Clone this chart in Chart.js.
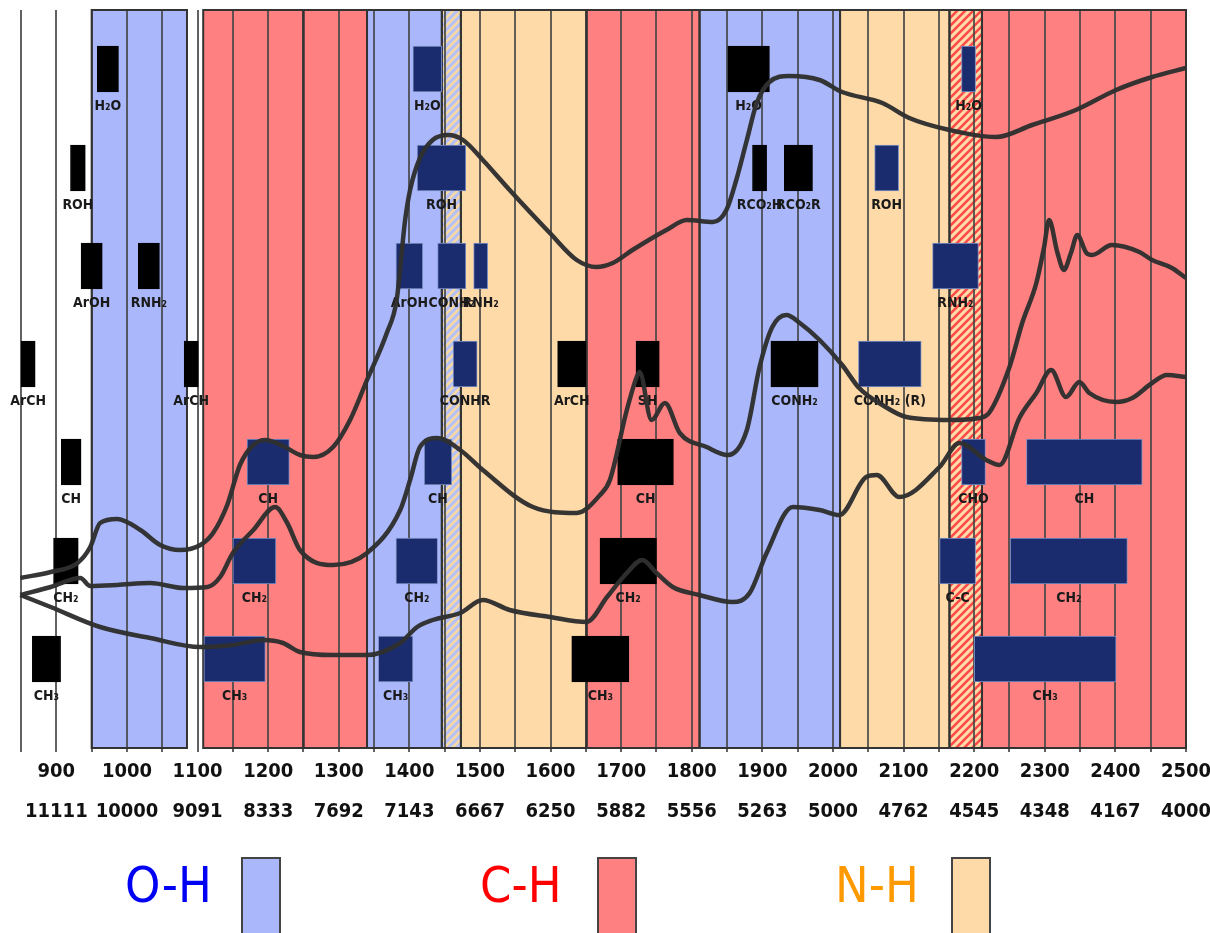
<!DOCTYPE html>
<html>
<head>
<meta charset="utf-8">
<script src="https://cdn.jsdelivr.net/npm/chart.js@4.4.1/dist/chart.umd.min.js"></script>
<style>
  body { margin: 0; background: #fff; }
  #wrap { position: relative; width: 1210px; height: 933px; overflow: hidden; }
  .key { position: absolute; top: 856px; font-family: "DejaVu Sans Condensed", "DejaVu Sans", sans-serif; font-stretch: condensed; font-size: 50px; line-height: 58px; }
  .swatch { position: absolute; top: 857px; width: 36px; height: 90px; border: 2px solid #444; }
</style>
</head>
<body>
<div id="wrap">
  <canvas id="nir" width="1210" height="840"></canvas>
  <span class="key" style="left:125px;color:#0000f5">O-H</span>
  <div class="swatch" style="left:241px;background:#aab8fb"></div>
  <span class="key" style="left:480px;color:#ff0000">C-H</span>
  <div class="swatch" style="left:597px;background:#ff8080"></div>
  <span class="key" style="left:835px;color:#ff9900">N-H</span>
  <div class="swatch" style="left:951px;background:#fedaa8"></div>
</div>
<script>
// axis labels: wavelength (nm) and wavenumber (cm-1)
const tickNm = [900, 1000, 1100, 1200, 1300, 1400, 1500, 1600, 1700, 1800, 1900, 2000, 2100, 2200, 2300, 2400, 2500];
const tickWavenumber = ['11111', '10000', '9091', '8333', '7692', '7143', '6667', '6250', '5882', '5556', '5263', '5000', '4762', '4545', '4348', '4167', '4000'];

// coloured regions behind the chart
const bandStart = [950, 1108, 1250, 1340, 1446, 1473, 1651, 1811, 2010, 2165, 2211];
const bandEnd = [1085, 1250, 1340, 1446, 1473, 1651, 1811, 2010, 2165, 2211, 2500];
const bandType = ['O-H', 'C-H', 'C-H', 'O-H', 'O-H/N-H', 'N-H', 'C-H', 'O-H', 'N-H', 'C-H/N-H', 'C-H'];

// absorption bands (boxes)
const rowLevel = [6.79, 5.80, 4.82, 3.84, 2.86, 1.87, 0.89];
const boxName = [
  'H₂O', 'H₂O', 'H₂O', 'H₂O',
  'ROH', 'ROH', 'RCO₂H', 'RCO₂R', 'ROH',
  'ArOH', 'RNH₂', 'ArOH', 'CONH₂', 'RNH₂', 'RNH₂',
  'ArCH', 'ArCH', 'CONHR', 'ArCH', 'SH', 'CONH₂', 'CONH₂ (R)',
  'CH', 'CH', 'CH', 'CH', 'CHO', 'CH',
  'CH₂', 'CH₂', 'CH₂', 'CH₂', 'C-C', 'CH₂',
  'CH₃', 'CH₃', 'CH₃', 'CH₃', 'CH₃'
];
const boxFrom = [
  958, 1405, 1851, 2182,
  920, 1411, 1886, 1931, 2059,
  935, 1016, 1381, 1440, 1491, 2141,
  850, 1081, 1462, 1610, 1721, 1912, 2036,
  907, 1170, 1421, 1695, 2182, 2274,
  896, 1150, 1381, 1670, 2151, 2251,
  866, 1109, 1356, 1630, 2200
];
const boxTo = [
  988, 1446, 1910, 2202,
  941, 1480, 1906, 1971, 2093,
  965, 1046, 1419, 1480, 1511, 2206,
  870, 1101, 1496, 1650, 1754, 1979, 2125,
  935, 1230, 1460, 1774, 2216, 2438,
  931, 1211, 1440, 1750, 2202, 2417,
  906, 1196, 1405, 1711, 2401
];
const boxRow = [
  1, 1, 1, 1,
  2, 2, 2, 2, 2,
  3, 3, 3, 3, 3, 3,
  4, 4, 4, 4, 4, 4, 4,
  5, 5, 5, 5, 5, 5,
  6, 6, 6, 6, 6, 6,
  7, 7, 7, 7, 7
];
const boxTone = [
  'k', 'n', 'k', 'n',
  'k', 'n', 'k', 'k', 'n',
  'k', 'k', 'n', 'n', 'n', 'n',
  'k', 'k', 'n', 'k', 'k', 'k', 'n',
  'k', 'n', 'n', 'k', 'n', 'n',
  'k', 'n', 'n', 'k', 'n', 'n',
  'k', 'n', 'n', 'k', 'n'
];

// spectra
const topNm = [849, 892, 930, 948, 962, 986, 1019, 1047, 1075, 1104, 1122, 1142, 1160, 1179, 1196, 1221, 1245, 1264, 1292, 1316, 1340, 1368, 1382, 1394, 1401, 1415, 1433, 1455, 1476, 1504, 1542, 1599, 1637, 1665, 1688, 1716, 1764, 1793, 1830, 1849, 1863, 1878, 1892, 1910, 1938, 1981, 2013, 2070, 2108, 2165, 2231, 2282, 2344, 2401, 2452, 2500];
const topAbs = [1.70, 1.76, 1.85, 2.01, 2.25, 2.29, 2.18, 2.03, 1.98, 2.03, 2.15, 2.43, 2.83, 3.03, 3.08, 3.02, 2.93, 2.91, 3.01, 3.28, 3.68, 4.15, 4.48, 5.28, 5.58, 5.90, 6.08, 6.13, 6.08, 5.88, 5.58, 5.15, 4.88, 4.81, 4.85, 4.98, 5.18, 5.28, 5.26, 5.38, 5.68, 6.08, 6.45, 6.66, 6.72, 6.68, 6.56, 6.45, 6.30, 6.18, 6.11, 6.23, 6.38, 6.58, 6.71, 6.80];

const midNm = [849, 892, 934, 948, 986, 1033, 1080, 1114, 1132, 1150, 1179, 1210, 1227, 1245, 1292, 1340, 1387, 1401, 1415, 1440, 1472, 1504, 1575, 1637, 1670, 1684, 1708, 1722, 1726, 1743, 1762, 1783, 1821, 1851, 1878, 1896, 1914, 1934, 1953, 1981, 2013, 2037, 2070, 2104, 2165, 2207, 2221, 2250, 2268, 2288, 2299, 2306, 2318, 2327, 2337, 2346, 2359, 2367, 2395, 2434, 2452, 2480, 2500];
const midAbs = [1.53, 1.61, 1.70, 1.62, 1.63, 1.65, 1.60, 1.61, 1.71, 1.95, 2.18, 2.41, 2.25, 1.98, 1.83, 1.95, 2.38, 2.68, 3.01, 3.10, 2.98, 2.78, 2.41, 2.35, 2.53, 2.68, 3.38, 3.71, 3.76, 3.28, 3.45, 3.15, 3.01, 2.93, 3.18, 3.81, 4.21, 4.33, 4.25, 4.08, 3.83, 3.60, 3.43, 3.31, 3.28, 3.30, 3.35, 3.81, 4.25, 4.65, 5.01, 5.28, 4.95, 4.78, 4.95, 5.13, 4.95, 4.93, 5.03, 4.96, 4.88, 4.80, 4.70];

const lowNm = [849, 892, 962, 1033, 1104, 1150, 1193, 1221, 1245, 1292, 1340, 1387, 1411, 1433, 1472, 1504, 1542, 1599, 1651, 1680, 1708, 1730, 1750, 1773, 1811, 1858, 1882, 1906, 1943, 1981, 2009, 2047, 2062, 2094, 2151, 2179, 2217, 2236, 2264, 2288, 2309, 2330, 2349, 2363, 2401, 2424, 2452, 2473, 2500];
const lowAbs = [1.53, 1.41, 1.21, 1.10, 1.01, 1.03, 1.08, 1.05, 0.96, 0.93, 0.93, 1.05, 1.21, 1.28, 1.35, 1.48, 1.38, 1.31, 1.26, 1.51, 1.75, 1.88, 1.75, 1.61, 1.53, 1.46, 1.55, 1.95, 2.41, 2.38, 2.33, 2.71, 2.73, 2.51, 2.81, 3.05, 2.88, 2.83, 3.30, 3.55, 3.78, 3.51, 3.66, 3.55, 3.46, 3.50, 3.65, 3.73, 3.71];

const gridNm = [];
for (let v = 850; v <= 2500; v += 50) gridNm.push(v);

const ctx = document.getElementById('nir').getContext('2d');

const hatch = (base, stripe) => {
  const c = document.createElement('canvas');
  c.width = 8;
  c.height = 8;
  const g = c.getContext('2d');
  g.fillStyle = base;
  g.fillRect(0, 0, 8, 8);
  g.strokeStyle = stripe;
  g.lineWidth = 2.6;
  g.beginPath();
  g.moveTo(-2, 10); g.lineTo(10, -2);
  g.moveTo(-2, 2); g.lineTo(2, -2);
  g.moveTo(6, 10); g.lineTo(10, 6);
  g.stroke();
  return ctx.createPattern(c, 'repeat');
};

const bandFill = {
  'O-H': '#aab8fb',
  'C-H': '#ff8080',
  'N-H': '#fedaa8',
  'O-H/N-H': hatch('#b6c2f7', '#f9d9a2'),
  'C-H/N-H': hatch('#fedaa8', '#ff4a4a')
};

const bandsPlugin = {
  id: 'bands',
  beforeDraw(chart) {
    const x = chart.scales.x;
    const { top, bottom } = chart.chartArea;
    const c = chart.ctx;
    c.save();
    bandStart.forEach((s, i) => {
      const x0 = x.getPixelForValue(s);
      const x1 = x.getPixelForValue(bandEnd[i]);
      c.fillStyle = bandFill[bandType[i]];
      c.fillRect(x0, top, x1 - x0, bottom - top);
    });
    c.restore();
  },
  beforeDatasetsDraw(chart) {
    const x = chart.scales.x;
    const { top, bottom } = chart.chartArea;
    const c = chart.ctx;
    c.save();
    c.strokeStyle = '#333';
    c.lineWidth = 2;
    bandStart.forEach((s, i) => {
      const x0 = x.getPixelForValue(s);
      const x1 = x.getPixelForValue(bandEnd[i]);
      c.strokeRect(x0, top, x1 - x0, bottom - top);
    });
    c.restore();
  }
};

const boxLabels = {
  id: 'boxLabels',
  afterDatasetDraw(chart, args) {
    if (args.meta.type !== 'bar') return;
    const c = chart.ctx;
    c.save();
    c.font = 'bold 14px "DejaVu Sans Condensed", "DejaVu Sans", sans-serif';
    c.fillStyle = '#1a1a1a';
    c.textAlign = 'center';
    c.textBaseline = 'middle';
    args.meta.data.forEach((bar, i) => {
      const cx = (bar.x + bar.base) / 2;
      const cy = bar.y + bar.height / 2 + 14;
      c.fillText(boxName[i], cx, cy);
    });
    c.restore();
  }
};

const spectrum = (nm, abs) => ({
  type: 'line',
  data: nm.map((v, i) => ({ x: v, y: abs[i] })),
  borderColor: 'rgba(48,48,48,0.97)',
  borderWidth: 4.5,
  pointRadius: 0,
  cubicInterpolationMode: 'monotone',
  order: 0
});

const chart = new Chart(ctx, {
  type: 'bar',
  data: {
    datasets: [
      {
        type: 'bar',
        indexAxis: 'y',
        data: boxName.map((n, i) => ({ x: [boxFrom[i], boxTo[i]], y: rowLevel[boxRow[i] - 1] })),
        backgroundColor: boxTone.map(t => (t === 'k' ? '#000000' : '#1b2c6e')),
        borderColor: boxTone.map(t => (t === 'k' ? '#000000' : '#7f92c6')),
        borderWidth: 1,
        borderSkipped: false,
        barThickness: 46,
        order: 1
      },
      spectrum(topNm, topAbs),
      spectrum(midNm, midAbs),
      spectrum(lowNm, lowAbs)
    ]
  },
  options: {
    responsive: false,
    animation: false,
    layout: { padding: { top: 10, left: 14, right: 0, bottom: 0 } },
    plugins: { legend: { display: false }, tooltip: { enabled: false } },
    scales: {
      x: {
        type: 'linear',
        min: 840,
        max: 2500,
        offset: false,
        afterBuildTicks: scale => {
          scale.ticks = gridNm.map(v => ({ value: v }));
        },
        afterFit: scale => {
          scale.height = 92;
          scale.paddingRight = 24;
        },
        grid: { color: 'rgba(70,70,70,0.85)', lineWidth: 2, tickLength: 4, offset: false },
        border: { display: false },
        ticks: {
          autoSkip: false,
          maxRotation: 0,
          padding: 0,
          color: '#111',
          font: { family: '"DejaVu Sans Condensed", "DejaVu Sans", sans-serif', size: 20, weight: 'bold', lineHeight: 2 },
          callback: value => {
            const i = tickNm.indexOf(value);
            return i < 0 ? '' : [String(value), tickWavenumber[i]];
          }
        }
      },
      y: {
        type: 'linear',
        min: 0,
        max: 7.38,
        offset: false,
        grid: { offset: false },
        display: false
      }
    }
  },
  plugins: [bandsPlugin, boxLabels]
});
</script>
</body>
</html>
